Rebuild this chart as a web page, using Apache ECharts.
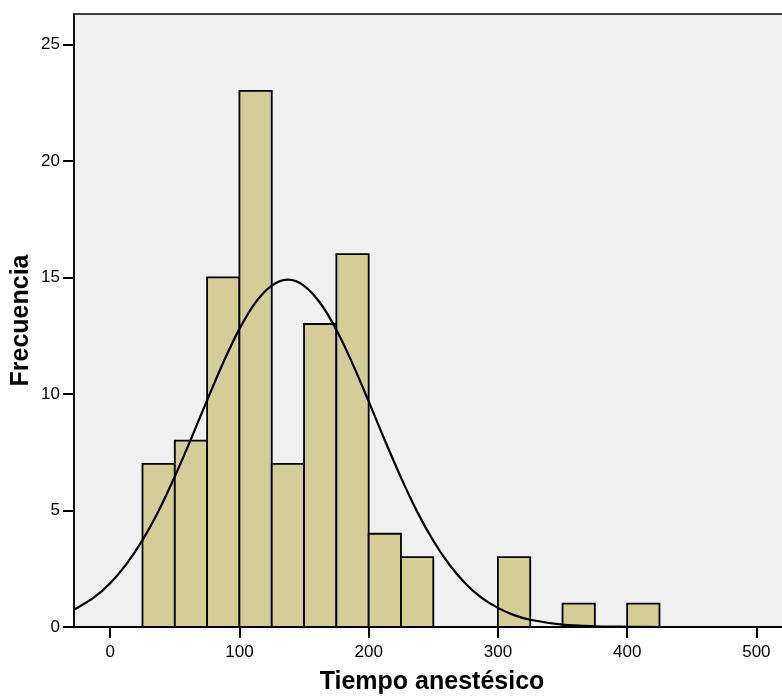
<!DOCTYPE html>
<html>
<head>
<meta charset="utf-8">
<script src="https://cdn.jsdelivr.net/npm/echarts@6/dist/echarts.min.js"></script>
<style>html,body{margin:0;padding:0;background:#fff;}#c{width:782px;height:699px;}</style>
</head>
<body>
<div id="c"></div>
<script>
// Histogram bins and counts
var binStarts = [25, 50, 75, 100, 125, 150, 175, 200, 225, 300, 350, 400];
var binEnds   = [50, 75, 100, 125, 150, 175, 200, 225, 250, 325, 375, 425];
var counts    = [7, 8, 15, 23, 7, 13, 16, 4, 3, 3, 1, 1];
// Normal curve points
var curveX = [-28, -12.5, 0, 12.5, 25, 37.5, 50, 62.5, 75, 87.5, 100, 112.5, 125, 137.5, 150, 162.5, 175, 187.5, 200, 212.5, 225, 237.5, 250, 262.5, 275, 287.5, 300, 312.5, 325, 350, 375, 400, 425, 450, 526];
var curveY = [0.74, 1.27, 1.88, 2.70, 3.73, 4.99, 6.46, 8.06, 9.73, 11.35, 12.79, 13.93, 14.65, 14.9, 14.64, 13.90, 12.75, 11.30, 9.68, 8.01, 6.41, 4.95, 3.70, 2.67, 1.86, 1.25, 0.82, 0.51, 0.31, 0.10, 0.03, 0.01, 0.0, 0.0, 0.0];
var xTicks = [0, 100, 200, 300, 400, 500];
var yTicks = [0, 5, 10, 15, 20, 25];

var FONT = 'Arial, "Liberation Sans", sans-serif';
var barData = binStarts.map(function (s, i) { return [s, binEnds[i], counts[i]]; });
var curveData = curveX.map(function (x, i) { return [x, curveY[i]]; });

var chart = echarts.init(document.getElementById('c'), null, {renderer: 'canvas'});
chart.setOption({
  backgroundColor: '#ffffff',
  animation: false,
  grid: {
    left: 74, right: -8, top: 14, bottom: 72,
    outerBoundsMode: 'none', containLabel: false,
    show: true, backgroundColor: '#f0f0f0', borderColor: '#000', borderWidth: 1.5
  },
  xAxis: {
    type: 'value', min: -28, max: 526, interval: 100,
    name: 'Tiempo anestésico', nameLocation: 'middle', nameGap: 43,
    nameMoveOverlap: false,
    nameTextStyle: {fontFamily: FONT, fontSize: 25, fontWeight: 'bold', color: '#000'},
    axisLine: {show: true, onZero: false, lineStyle: {color: '#000', width: 2}},
    axisTick: {show: true, length: 11, lineStyle: {color: '#000', width: 2},
      customValues: xTicks},
    axisLabel: {fontFamily: FONT, fontSize: 17, color: '#000', margin: 17,
      customValues: xTicks},
    splitLine: {show: false}
  },
  yAxis: {
    type: 'value', min: 0, max: 26.3, interval: 5,
    name: 'Frecuencia', nameLocation: 'middle', nameGap: 40, nameRotate: 90,
    nameMoveOverlap: false,
    nameTextStyle: {fontFamily: FONT, fontSize: 25, fontWeight: 'bold', color: '#000'},
    axisLine: {show: true, onZero: false, lineStyle: {color: '#000', width: 1.5}},
    axisTick: {show: true, length: 11, lineStyle: {color: '#000', width: 2},
      customValues: yTicks},
    axisLabel: {fontFamily: FONT, fontSize: 17, color: '#000', margin: 14,
      padding: [4, 0, 0, 0], customValues: yTicks},
    splitLine: {show: false}
  },
  series: [
    {
      type: 'custom',
      data: barData,
      encode: {x: [0, 1], y: 2},
      renderItem: function (params, api) {
        var p0 = api.coord([api.value(0), api.value(2)]);
        var p1 = api.coord([api.value(1), 0]);
        return {
          type: 'rect',
          shape: {x: p0[0], y: p0[1], width: p1[0] - p0[0], height: p1[1] - p0[1]},
          style: {fill: '#d3ce98', stroke: '#000', lineWidth: 1.8}
        };
      },
      z: 2
    },
    {
      type: 'line',
      data: curveData,
      smooth: 0.3,
      showSymbol: false,
      symbol: 'none',
      lineStyle: {color: '#000', width: 2.2},
      clip: true,
      z: 3
    }
  ]
});
</script>
</body>
</html>
